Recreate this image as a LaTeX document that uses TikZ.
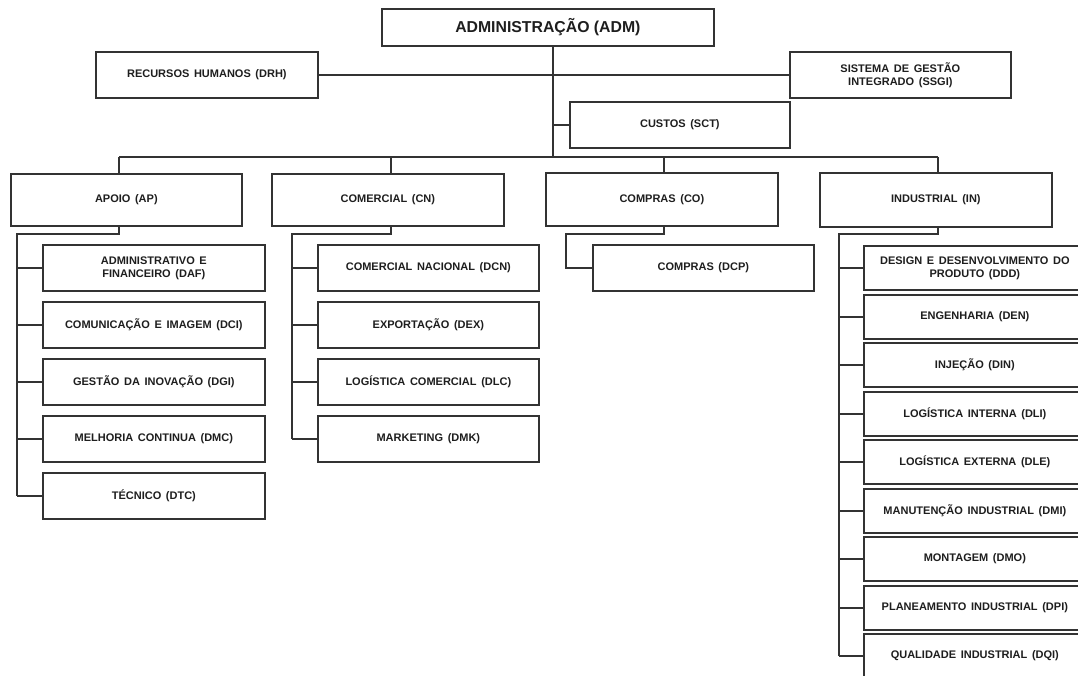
\documentclass[tikz,border=0pt]{standalone}
\usepackage{fontspec}
\setmainfont{Liberation Sans}
\usetikzlibrary{calc}
\definecolor{ln}{HTML}{333333}
\definecolor{tx}{HTML}{1E1E1E}
\newcommand{\lbl}{\fontsize{11}{13}\selectfont\bfseries\spaceskip=0.42em plus 0.1em\relax}
\begin{document}
\begin{tikzpicture}[x=1pt,y=-1pt,
  box/.style={draw=ln, line width=1.7pt, fill=white, anchor=north west,
    inner sep=2pt, align=center, text=tx, font=\lbl},
  link/.style={draw=ln, line width=1.5pt}]
\useasboundingbox (0,0) rectangle (1078,675);

% top level
\node[box, minimum width=332pt, minimum height=37pt,
      font=\fontsize{15.8}{18}\selectfont\bfseries] (adm) at (381,8) {ADMINISTRAÇÃO (ADM)};
\node[box, minimum width=222pt, minimum height=46pt] (drh) at (95,51) {RECURSOS HUMANOS (DRH)};
\node[box, minimum width=221pt, minimum height=46pt] (ssgi) at (789,51) {SISTEMA DE GESTÃO\\INTEGRADO (SSGI)};
\node[box, minimum width=220pt, minimum height=46pt] (sct) at (569,101) {CUSTOS (SCT)};

% directorates
\node[box, minimum width=231pt, minimum height=52pt] (ap) at (10,173) {APOIO (AP)};
\node[box, minimum width=232pt, minimum height=52pt] (cn) at (271,173) {COMERCIAL (CN)};
\node[box, minimum width=232pt, minimum height=53pt] (co) at (545,172) {COMPRAS (CO)};
\node[box, minimum width=232pt, minimum height=54pt] (in) at (819,172) {INDUSTRIAL (IN)};

% departments
\foreach \t [count=\i] in {{ADMINISTRATIVO E\\FINANCEIRO (DAF)},
    {COMUNICAÇÃO E IMAGEM (DCI)}, {GESTÃO DA INOVAÇÃO (DGI)},
    {MELHORIA CONTINUA (DMC)}, {TÉCNICO (DTC)}}
  \node[box, minimum width=222pt, minimum height=46pt] (ap\i) at (42,{244+57*(\i-1)}) {\t};

\foreach \t [count=\i] in {{COMERCIAL NACIONAL (DCN)}, {EXPORTAÇÃO (DEX)},
    {LOGÍSTICA COMERCIAL (DLC)}, {MARKETING (DMK)}}
  \node[box, minimum width=221pt, minimum height=46pt] (cn\i) at (317,{244+57*(\i-1)}) {\t};

\node[box, minimum width=221pt, minimum height=46pt] (co1) at (592,244) {COMPRAS (DCP)};

\foreach \t/\y [count=\i] in {{DESIGN E DESENVOLVIMENTO DO\\PRODUTO (DDD)}/245,
    {ENGENHARIA (DEN)}/294, {INJEÇÃO (DIN)}/342, {LOGÍSTICA INTERNA (DLI)}/391,
    {LOGÍSTICA EXTERNA (DLE)}/439, {MANUTENÇÃO INDUSTRIAL (DMI)}/488,
    {MONTAGEM (DMO)}/536, {PLANEAMENTO INDUSTRIAL (DPI)}/585,
    {QUALIDADE INDUSTRIAL (DQI)}/633}
  \node[box, minimum width=222pt, minimum height=44pt] (in\i) at (863,\y) {\t};

% branching points
\coordinate (bus) at (553,157);
\coordinate (busL) at (119,157);
\coordinate (busR) at (938,157);
\coordinate (apdrop) at (119,234);
\coordinate (apspine) at (17,234);
\coordinate (cndrop) at (391,234);
\coordinate (cnspine) at (292,234);
\coordinate (codrop) at (664,234);
\coordinate (cospine) at (566,234);
\coordinate (indrop) at (938,234);
\coordinate (inspine) at (839,234);

% connectors of the upper levels
\draw[link] (bus |- adm.south) -- (bus);
\draw[link] (drh.east) -- (drh.east -| ssgi.west);
\draw[link] (bus |- sct.west) -- (sct.west);
\draw[link] (busL) -- (busR);
\draw[link] (busL) -- (busL |- ap.north);
\draw[link] (cndrop |- bus) -- (cndrop |- cn.north);
\draw[link] (codrop |- bus) -- (codrop |- co.north);
\draw[link] (busR) -- (busR |- in.north);

% Apoio
\draw[link] (apdrop |- ap.south) -- (apdrop) -- (apspine) -- (apspine |- ap5.west);
\foreach \i in {1,...,5} \draw[link] (apspine |- ap\i.west) -- (ap\i.west);

% Comercial
\draw[link] (cndrop |- cn.south) -- (cndrop) -- (cnspine) -- (cnspine |- cn4.west);
\foreach \i in {1,...,4} \draw[link] (cnspine |- cn\i.west) -- (cn\i.west);

% Compras
\draw[link] (codrop |- co.south) -- (codrop) -- (cospine) -- (cospine |- co1.west) -- (co1.west);

% Industrial
\draw[link] (indrop |- in.south) -- (indrop) -- (inspine) -- (inspine |- in9.west);
\foreach \i in {1,...,9} \draw[link] (inspine |- in\i.west) -- (in\i.west);
\end{tikzpicture}
\end{document}
